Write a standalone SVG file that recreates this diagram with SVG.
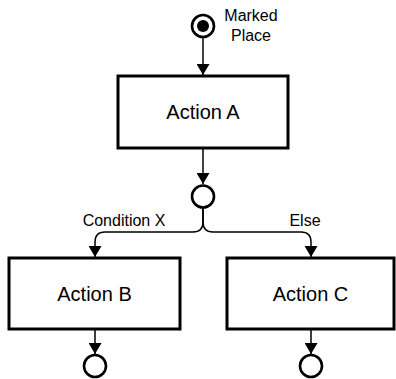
<svg xmlns="http://www.w3.org/2000/svg" width="396" height="379" viewBox="0 0 396 379">
  <defs>
    <marker id="arrow" viewBox="0 0 11 13" refX="11" refY="6.5" markerWidth="11" markerHeight="13" markerUnits="userSpaceOnUse" orient="auto">
      <path d="M0,0 L11,6.5 L0,13 Z" fill="#000"/>
    </marker>
    <style>
      .box { fill: #fff; stroke: #000; stroke-width: 3; }
      .place { fill: #fff; stroke: #000; stroke-width: 2.6; }
      .edge { fill: none; stroke: #000; stroke-width: 1.5; marker-end: url(#arrow); }
      .title { font-family: "Liberation Sans", Arial, sans-serif; font-size: 20px; fill: #000; text-anchor: middle; }
      .label { font-family: "Liberation Sans", Arial, sans-serif; font-size: 16px; fill: #000; text-anchor: middle; }
    </style>
  </defs>
  <rect width="396" height="379" fill="#fff"/>

  <g id="connectors">
    <path class="edge" d="M203,38 L203,75"/>
    <path class="edge" d="M203,148 L203,184"/>
    <path class="edge" d="M203,208 L203,222 Q203,232 193,232 L105,232 Q95,232 95,242 L95,257"/>
    <path class="edge" d="M203,208 L203,222 Q203,232 213,232 L301,232 Q311,232 311,242 L311,257"/>
    <path class="edge" d="M95,329 L95,354"/>
    <path class="edge" d="M311,329 L311,354"/>
    <text class="label" x="124" y="226">Condition X</text>
    <text class="label" x="305" y="226">Else</text>
  </g>

  <g id="marked-place">
    <circle class="place" cx="203" cy="26" r="11"/>
    <circle cx="203" cy="26" r="6" fill="#000"/>
    <text class="label" x="251" y="21">Marked</text>
    <text class="label" x="251" y="41">Place</text>
  </g>

  <g id="action-a">
    <rect class="box" x="118" y="76" width="170" height="72"/>
    <text class="title" x="203" y="119">Action A</text>
  </g>

  <g id="place-choice">
    <circle class="place" cx="203" cy="196.5" r="11"/>
  </g>

  <g id="action-b">
    <rect class="box" x="9" y="258" width="171" height="71"/>
    <text class="title" x="94.5" y="301">Action B</text>
  </g>

  <g id="action-c">
    <rect class="box" x="227" y="258" width="167" height="71"/>
    <text class="title" x="310.5" y="301">Action C</text>
  </g>

  <g id="place-b">
    <circle class="place" cx="95" cy="366" r="11"/>
  </g>

  <g id="place-c">
    <circle class="place" cx="311" cy="366" r="11"/>
  </g>
</svg>
